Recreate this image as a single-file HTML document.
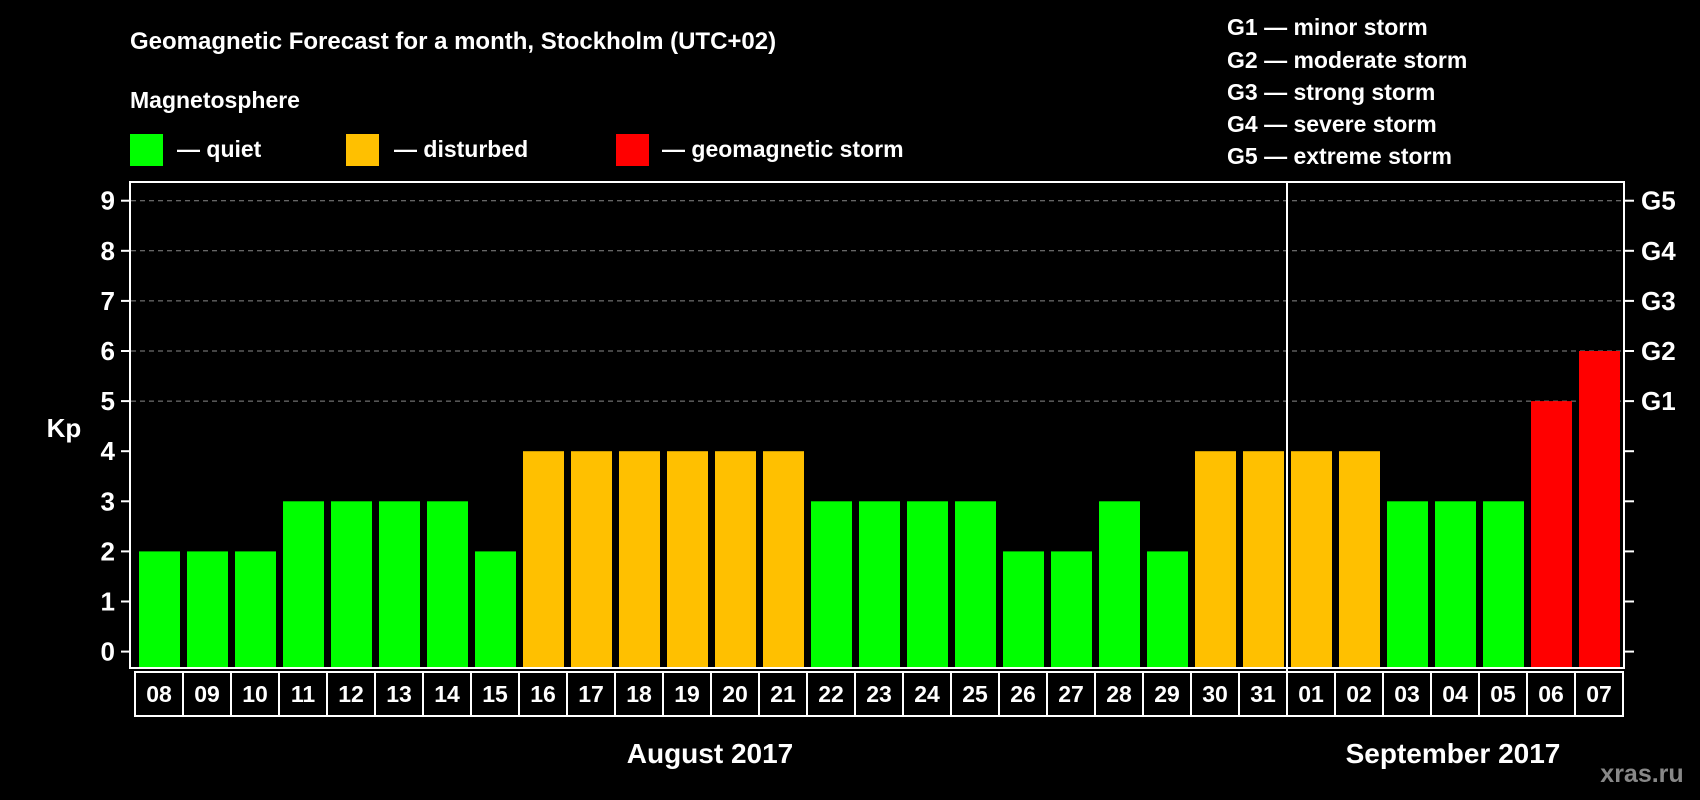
<!DOCTYPE html>
<html><head><meta charset="utf-8"><style>
html,body{margin:0;padding:0;background:#000;}
svg{display:block;font-family:"Liberation Sans",Arial,sans-serif;font-weight:bold;}
</style></head><body>
<svg id="chart" width="1700" height="800" viewBox="0 0 1700 800" xmlns="http://www.w3.org/2000/svg">
<rect width="1700" height="800" fill="#000"/>
<text x="130" y="49" fill="#fff" font-size="24">Geomagnetic Forecast for a month, Stockholm (UTC+02)</text>
<text x="130" y="108" fill="#fff" font-size="23">Magnetosphere</text>
<g><rect x="130" y="134" width="33" height="32" fill="#00ff00"/><text x="177" y="157" fill="#fff" font-size="23">— quiet</text></g>
<g><rect x="346" y="134" width="33" height="32" fill="#ffc000"/><text x="394" y="157" fill="#fff" font-size="23">— disturbed</text></g>
<g><rect x="616" y="134" width="33" height="32" fill="#ff0000"/><text x="662" y="157" fill="#fff" font-size="23">— geomagnetic storm</text></g>
<g fill="#fff" font-size="23">
<text x="1227" y="35">G1 — minor storm</text>
<text x="1227" y="68">G2 — moderate storm</text>
<text x="1227" y="100">G3 — strong storm</text>
<text x="1227" y="132">G4 — severe storm</text>
<text x="1227" y="164">G5 — extreme storm</text>
</g>
<text x="64" y="437" fill="#fff" font-size="26" text-anchor="middle">Kp</text>
<g id="grid"></g><g id="bars"></g><g id="axes"></g>
<rect x="130" y="182" width="1494" height="486" fill="none" stroke="#fff" stroke-width="2"/>
<line x1="1287" y1="182" x2="1287" y2="716" stroke="#fff" stroke-width="2"/>
<text x="710" y="763" fill="#fff" font-size="28" text-anchor="middle">August 2017</text>
<text x="1453" y="763" fill="#fff" font-size="28" text-anchor="middle">September 2017</text>
<text x="1642" y="782" fill="#888" font-size="25" text-anchor="middle">xras.ru</text>
</svg>
<script>
const days=["08","09","10","11","12","13","14","15","16","17","18","19","20","21","22","23","24","25","26","27","28","29","30","31","01","02","03","04","05","06","07"];
const kp=[2,2,2,3,3,3,3,2,4,4,4,4,4,4,3,3,3,3,2,2,3,2,4,4,4,4,3,3,3,5,6];
const yTicks=[0,1,2,3,4,5,6,7,8,9];
const gLabels=["G1","G2","G3","G4","G5"];
const gLevels=[5,6,7,8,9];
const NS="http://www.w3.org/2000/svg";
const y=v=>651.6-v*50.1;
const x=i=>135+i*48;
function mk(tag,attrs,parent){const e=document.createElementNS(NS,tag);for(const k in attrs)e.setAttribute(k,attrs[k]);parent.appendChild(e);return e;}
const grid=document.getElementById('grid'),bars=document.getElementById('bars'),axes=document.getElementById('axes');
yTicks.forEach(v=>{
  if(v>=5){const l=mk('line',{x1:131,x2:1623,y1:y(v),y2:y(v),stroke:'#888','stroke-dasharray':'5,4','stroke-width':1},grid);
  
  }
  const t=mk('line',{x1:121,x2:131,y1:y(v),y2:y(v),stroke:'#fff','stroke-width':2},axes);
  
  
  const r=mk('line',{x1:1624,x2:1634,y1:y(v),y2:y(v),stroke:'#fff','stroke-width':2},axes);
  
  
  const tx=mk('text',{x:115,y:y(v)+9,fill:'#fff','font-size':26,'text-anchor':'end'},axes);tx.textContent=v;
  
  
});
gLabels.forEach((g,i)=>{const t=mk('text',{x:1641,y:y(gLevels[i])+9,fill:'#fff','font-size':26},axes);t.textContent=g;
  
  });
days.forEach((d,i)=>{
  const v=kp[i];const c=v>=5?'#ff0000':(v>=4?'#ffc000':'#00ff00');
  const b=mk('rect',{x:x(i)+4,y:y(v),width:41,height:y(0)+16-y(v),fill:c},bars);
  
  
  const bx=mk('rect',{x:x(i),y:672,width:48,height:44,fill:'#000',stroke:'#fff','stroke-width':2},axes);
  
  
  const t=mk('text',{x:x(i)+24,y:702,fill:'#fff','font-size':23,'text-anchor':'middle'},axes);t.textContent=d;
  
  
});
</script>
</body></html>
